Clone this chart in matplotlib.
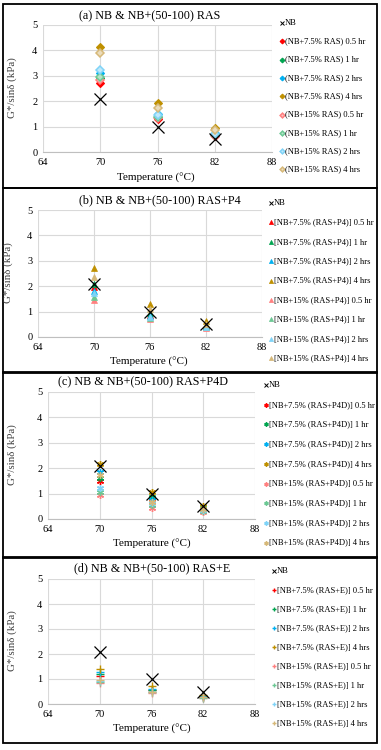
import matplotlib
matplotlib.use("Agg")
import matplotlib.pyplot as plt
from matplotlib.lines import Line2D
from matplotlib.patches import Rectangle

plt.rcParams['font.family'] = ['Liberation Serif', 'DejaVu Serif']

W, H = 381, 750
temps = [70, 76, 82]
nb = [2.1, 1.0, 0.5]

hours = ["0.5 hr", "1 hr", "2 hrs", "4 hrs"]
colors_75 = ["#FF0000", "#00A550", "#00B0F0", "#BF9000"]
colors_15 = ["#FF8080", "#6CC894", "#7FD3F7", "#D6B878"]
faces_15 = ["#FFC0C0", "#B5E4C9", "#BFE9FB", "#EBDCBC"]

titles = ["(a) NB & NB+(50-100) RAS",
          "(b) NB & NB+(50-100) RAS+P4",
          "(c) NB & NB+(50-100) RAS+P4D",
          "(d) NB & NB+(50-100) RAS+E"]
label_fmt = ["(NB+{p}% RAS) {h}",
             "[NB+{p}% (RAS+P4)] {h}",
             "[NB+{p}% (RAS+P4D)] {h}",
             "[NB+{p}% (RAS+E)] {h}"]
markers = ["D", "^", (6, 2, 0), "+"]

# values: [panel][series] -> values at 70, 76, 82 ; series order 7.5% x4 then 15% x4
vals_a = [[2.70, 1.28, 0.62], [2.90, 1.38, 0.65], [3.10, 1.50, 0.75], [4.15, 1.93, 0.95],
          [2.85, 1.32, 0.64], [2.95, 1.36, 0.68], [3.22, 1.46, 0.72], [3.88, 1.75, 0.85]]
vals_b = [[1.95, 0.88, 0.42], [2.10, 0.95, 0.45], [1.82, 0.82, 0.40], [2.70, 1.28, 0.62],
          [1.45, 0.70, 0.36], [1.58, 0.75, 0.38], [1.75, 0.80, 0.40], [2.35, 1.10, 0.50]]
vals_c = [[1.48, 0.72, 0.38], [1.62, 0.85, 0.42], [1.85, 0.75, 0.40], [2.15, 1.05, 0.52],
          [0.93, 0.45, 0.28], [1.05, 0.55, 0.32], [1.22, 0.62, 0.35], [1.75, 0.68, 0.38]]
vals_d = [[1.12, 0.55, 0.30], [1.22, 0.58, 0.31], [1.30, 0.62, 0.33], [1.40, 0.72, 0.38],
          [0.85, 0.45, 0.25], [0.88, 0.47, 0.26], [0.92, 0.49, 0.27], [0.95, 0.50, 0.28]]
all_vals = [vals_a, vals_b, vals_c, vals_d]

xticks = [64, 70, 76, 82, 88]
yticks = [0, 1, 2, 3, 4, 5]

# layout in pixels
axes_px = [(43, 272, 152, 25), (38, 262, 337, 210), (48, 255, 519, 392), (48, 255, 704, 579)]
boxes_px = [(3, 4, 377, 188), (3, 188, 377, 373), (3, 372, 377, 558), (3, 557, 377, 743)]
title_px = [(150, 16), (160, 200), (143, 382), (152, 568)]
legend_px = [(279, 14, 18.3), (268, 194, 19.4), (263, 376, 19.7), (271, 562, 19.0)]
ylab_px = [(12, 88), (8, 273), (12, 455), (12, 641)]
xlab_px = [(156, 178), (149, 362), (152, 544), (152, 729)]

fig = plt.figure(figsize=(W / 100, H / 100), dpi=100)
fig.patch.set_facecolor("white")

def fx(p):
    return p / W

def fy(p):
    return 1 - p / H

for i in range(4):
    x0, x1, y0, y5 = axes_px[i]
    ax = fig.add_axes([fx(x0), fy(y0), fx(x1 - x0), (y0 - y5) / H])
    ax.set_xlim(64, 88)
    ax.set_ylim(0, 5)
    ax.set_xticks(xticks)
    ax.set_yticks(yticks)
    ax.grid(True, color="#D9D9D9", linewidth=0.8)
    ax.set_axisbelow(True)
    for s in ["top", "right", "left"]:
        ax.spines[s].set_visible(False)
    ax.spines["bottom"].set_color("#BFBFBF")
    ax.spines["bottom"].set_linewidth(0.8)
    ax.tick_params(length=0, labelsize=7.5, pad=4)
    handles = [dict(marker="x", color="black", ms=3.5, mew=0.7, mfc="black",
                    mec="black", label="NB")]
    for j in range(8):
        col = colors_75[j] if j < 4 else colors_15[j - 4]
        pct = "7.5" if j < 4 else "15"
        lab = label_fmt[i].format(p=pct, h=hours[j % 4])
        m = markers[i]
        mfc = col
        if i == 0:
            ms, mew = 4, 0.8
            if j >= 4:
                mfc = faces_15[j - 4]
                mew = 1.1
        elif i == 1:
            ms, mew = 5, 0.5
        elif i == 2:
            ms, mew = 5, 1.0
        else:
            ms, mew = 6, 1.0
        ax.plot(temps, all_vals[i][j], linestyle="none", marker=m, color=col,
                markersize=ms, markeredgewidth=mew, markerfacecolor=mfc,
                markeredgecolor=col, zorder=3)
        handles.append(dict(marker=m, color=col, ms=ms * 0.6, mew=mew, mfc=mfc,
                            mec=col, label=lab))
    ax.plot(temps, nb, linestyle="none", marker="x", color="black",
            markersize=8, markeredgewidth=0.9, zorder=5)
    lx, ly, sp = legend_px[i]
    for k, h in enumerate(handles):
        yy = ly + 9 + k * sp
        hl = Line2D([fx(lx + 3)], [fy(yy)], transform=fig.transFigure,
                    marker=h["marker"], color=h["color"], linestyle="none",
                    markersize=h["ms"], markeredgewidth=h["mew"],
                    markerfacecolor=h["mfc"], markeredgecolor=h["mec"])
        fig.add_artist(hl)
        fig.text(fx(lx + 6), fy(yy), h["label"], fontsize=6.1, va="center", ha="left")
    fig.text(fx(title_px[i][0]), fy(title_px[i][1]), titles[i], fontsize=8.7,
             ha="center", va="center")
    fig.text(fx(ylab_px[i][0]), fy(ylab_px[i][1]), "G*/sinδ (kPa)", fontsize=7.8,
             rotation=90, ha="center", va="center", color="#404040")
    fig.text(fx(xlab_px[i][0]), fy(xlab_px[i][1]), "Temperature (°C)", fontsize=8,
             ha="center", va="center")
    bx0, by0, bx1, by1 = boxes_px[i]
    fig.add_artist(Rectangle((fx(bx0), fy(by1)), fx(bx1 - bx0), (by1 - by0) / H,
                             transform=fig.transFigure, fill=False,
                             edgecolor="black", linewidth=1.3))

fig.savefig("out.png", dpi=100)
